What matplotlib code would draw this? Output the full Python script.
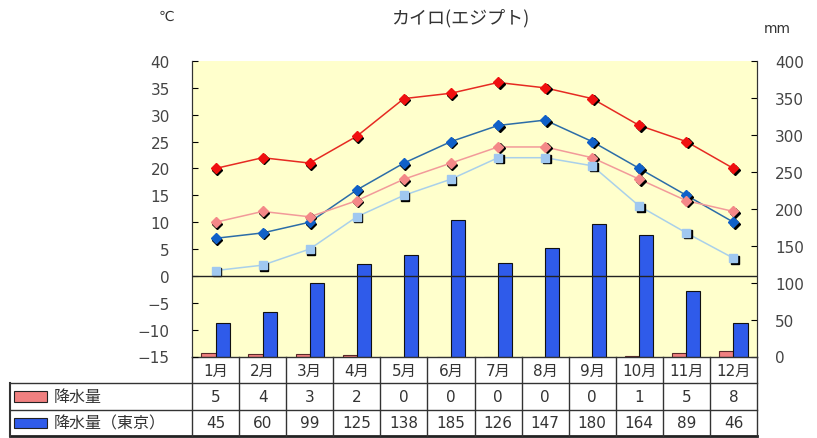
import matplotlib
matplotlib.use("Agg")
import matplotlib.pyplot as plt
from matplotlib.transforms import offset_copy
from matplotlib.patches import Rectangle

plt.rcParams['font.family'] = ['DejaVu Sans', 'Noto Sans CJK JP']

months = ['1月', '2月', '3月', '4月', '5月', '6月',
          '7月', '8月', '9月', '10月', '11月', '12月']

# temperatures (deg C)
cairo_max = [20, 22, 21, 26, 33, 34, 36, 35, 33, 28, 25, 20]
cairo_mean = [10, 12, 11, 14, 18, 21, 24, 24, 22, 18, 14, 12]
tokyo_max = [7, 8, 10, 16, 21, 25, 28, 29, 25, 20, 15, 10]
tokyo_mean = [1, 2, 5, 11, 15, 18, 22, 22, 20.5, 13, 8, 3.3]

# precipitation (mm)
rain_cairo = [5, 4, 3, 2, 0, 0, 0, 0, 0, 1, 5, 8]
rain_tokyo = [45, 60, 99, 125, 138, 185, 126, 147, 180, 164, 89, 46]

W, H = 817, 439
fig = plt.figure(figsize=(W / 100, H / 100), dpi=100)
fig.patch.set_facecolor('white')

left, right, top, bottom = 192, 757, 62, 357.5
rect = [left / W, 1 - bottom / H, (right - left) / W, (bottom - top) / H]
ax = fig.add_axes(rect)
ax2 = ax.twinx()
ax.set_zorder(ax2.get_zorder() + 1)
ax.patch.set_visible(False)
ax2.patch.set_visible(True)
ax2.set_facecolor('#FFFFCC')

x = list(range(12))

# bars on the mm axis
bw = 0.3
ax2.bar([i - bw / 2 for i in x], rain_cairo, width=bw, color='#F08080',
        edgecolor='#5a2a2a', linewidth=0.8)
ax2.bar([i + bw / 2 for i in x], rain_tokyo, width=bw, color='#2F5BEA',
        edgecolor='#111111', linewidth=0.8)
ax2.set_ylim(0, 400)
ax2.set_yticks(range(0, 401, 50))

# temperature lines with a dark drop shadow under each marker
shadow = offset_copy(ax.transData, fig=fig, x=1.5, y=-1.5, units='dots')
series = [
    (cairo_max, '#E62A22', '#F01010', 'D'),
    (tokyo_max, '#2C6DA8', '#1060C8', 'D'),
    (cairo_mean, '#F29A9A', '#F48888', 'D'),
    (tokyo_mean, '#A9D0EA', '#A0C8F0', 's'),
]
for vals, lc, mc, mk in series:
    ax.plot(x, vals, color=lc, linewidth=1.1, zorder=3)
    ax.plot(x, vals, linestyle='none', marker=mk, markersize=5.5,
            color='black', transform=shadow, zorder=4)
    ax.plot(x, vals, linestyle='none', marker=mk, markersize=5.5,
            color=mc, zorder=5)

ax.axhline(0, color='#222222', linewidth=1, zorder=6)
ax.set_ylim(-15, 40)
ax.set_yticks(range(-15, 41, 5))
ax.set_xlim(-0.5, 11.5)
ax2.set_xlim(-0.5, 11.5)
ax.set_xticks([])

for a in (ax, ax2):
    for s in ('top', 'bottom'):
        a.spines[s].set_visible(False)
    a.spines['left'].set_color('#333333')
    a.spines['right'].set_color('#333333')
ax.tick_params(axis='y', direction='in', length=4, labelsize=11,
               labelcolor='#444444', pad=16)
ax2.tick_params(axis='y', direction='in', length=4, labelsize=11,
                labelcolor='#444444', pad=13)

fig.text(460 / W, 1 - 18 / H, 'カイロ(エジプト)', ha='center', va='center',
         fontsize=13, color='#333333', family=['Noto Sans CJK JP'])
fig.text(166 / W, 1 - 17 / H, '℃', ha='center', va='center',
         fontsize=10, color='#333333')
fig.text(777 / W, 1 - 29 / H, 'mm', ha='center', va='center',
         fontsize=10, color='#333333')

# data table under the chart
t_left, t_top, t_bottom = 10, 358, 437
cw = (right - left) / 12
tax = fig.add_axes([t_left / W, 1 - t_bottom / H,
                    (right - t_left) / W, (t_bottom - t_top) / H])
x0 = -(left - t_left) / cw
tax.set_xlim(x0, 12)
tax.set_ylim(0, 3)
tax.axis('off')

lc = '#333333'
tax.plot([0, 12], [3, 3], color=lc, linewidth=1, clip_on=False)
for yy in (2, 1):
    tax.plot([x0, 12], [yy, yy], color=lc, linewidth=1, clip_on=False)
tax.plot([x0, 12], [0, 0], color='#222222', linewidth=2, clip_on=False)
tax.plot([x0, x0], [0, 2], color=lc, linewidth=1.5, clip_on=False)
for i in range(13):
    tax.plot([i, i], [0, 3], color=lc, linewidth=1, clip_on=False)

for i, m in enumerate(months):
    tax.text(i + 0.5, 2.5, m, ha='center', va='center', fontsize=11,
             color='#333333')
    tax.text(i + 0.5, 1.5, str(rain_cairo[i]), ha='center', va='center',
             fontsize=11, color='#333333')
    tax.text(i + 0.5, 0.5, str(rain_tokyo[i]), ha='center', va='center',
             fontsize=11, color='#333333')

sx0 = (14 - left) / cw
sx1 = (47 - left) / cw
for yy, col, label in ((1, '#F08080', '降水量'), (0, '#2F5BEA', '降水量（東京）')):
    tax.add_patch(Rectangle((sx0, yy + 0.3), sx1 - sx0, 0.4, facecolor=col,
                            edgecolor='#222222', linewidth=0.8,
                            clip_on=False))
    tax.text((54 - left) / cw, yy + 0.5, label, ha='left', va='center',
             fontsize=11.5, color='#333333', family=['Noto Sans CJK JP'])

fig.savefig('out.png', dpi=100)
